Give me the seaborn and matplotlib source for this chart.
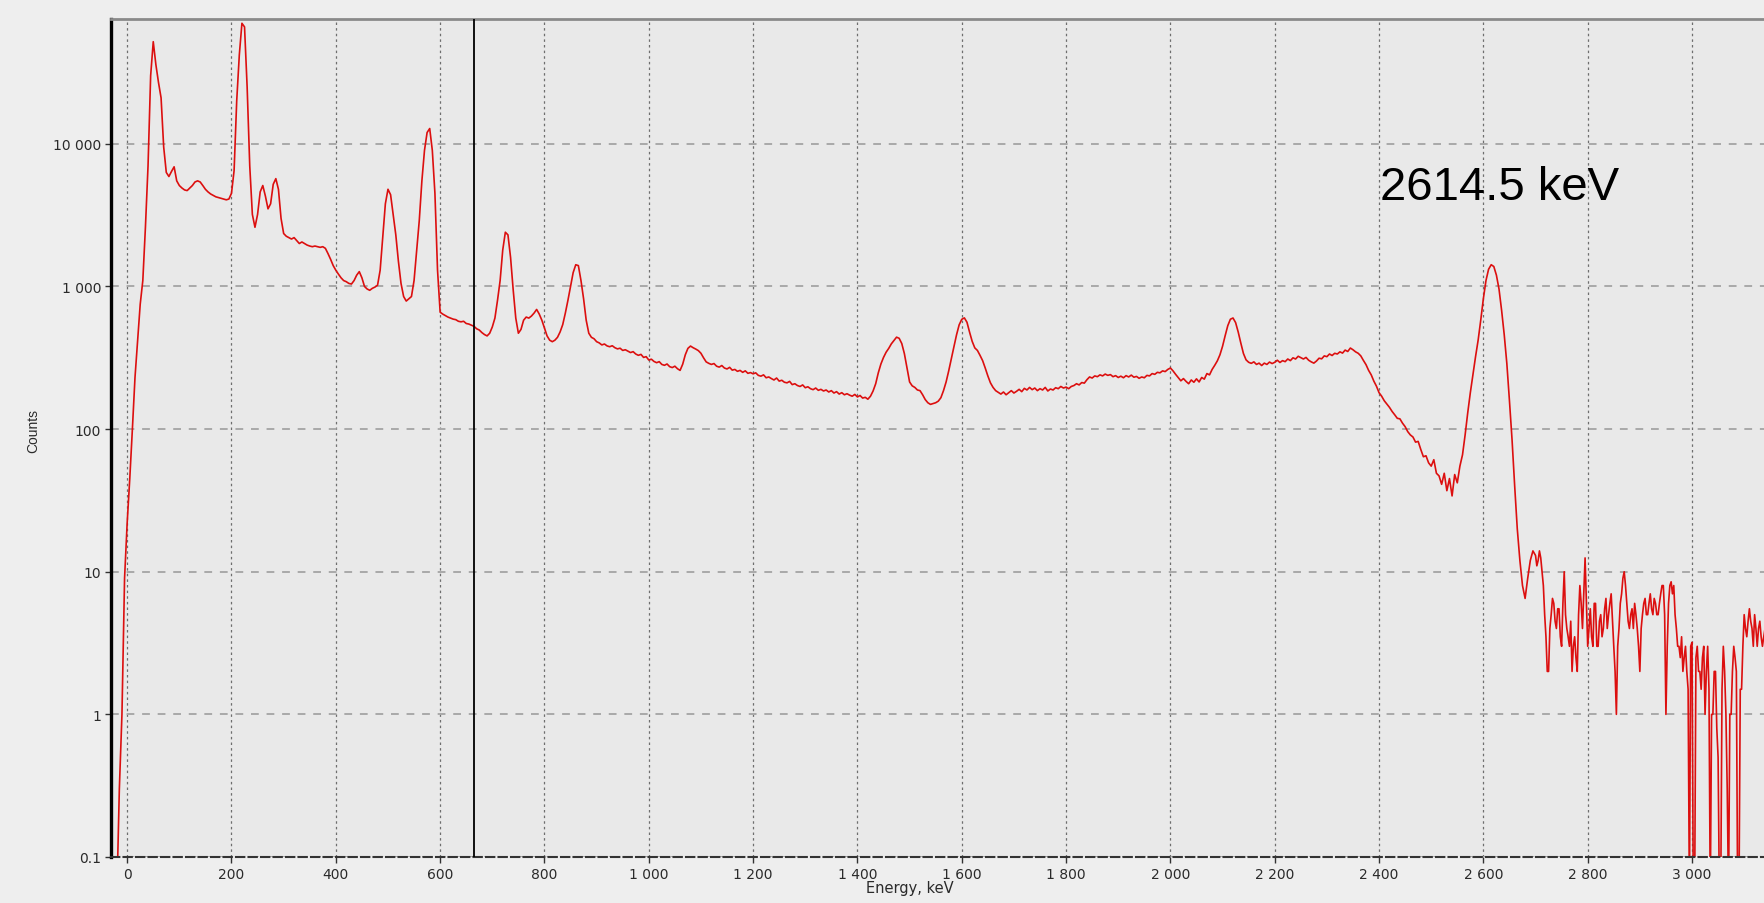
import numpy as np
import pandas as pd
import matplotlib
matplotlib.use("Agg")
import matplotlib.pyplot as plt
from matplotlib.ticker import FixedLocator, FuncFormatter, MultipleLocator, NullLocator
import seaborn as sns

# Gamma spectrum counts.
# Each segment: start energy (keV), bin width (keV), counts. One line = 100 keV (25 keV in the tail).
start_a, step_a = -20, 5
counts_a = [0.05, 0.3, 1.0, 9,
            22, 45, 100, 230, 420, 750, 1100, 2600, 7000, 30000, 52000, 36000, 27000, 21000, 9500, 6300, 5900, 6400, 6900, 5500,
            5100, 4900, 4750, 4700, 4900, 5100, 5400, 5500, 5400, 5100, 4800, 4600, 4450, 4350, 4250, 4200, 4150, 4100, 4050, 4100,
            4500, 6500, 20000, 42000, 70000, 66000, 25000, 7000, 3200, 2600, 3200, 4600, 5100, 4300, 3500, 3800, 5200, 5700, 4800, 3000]

start_b, step_b = 300, 5
counts_b = [2350, 2250, 2200, 2150, 2200, 2100, 2000, 2050, 2000, 1950, 1920, 1900, 1920, 1900, 1880, 1900, 1850, 1700, 1550, 1400,
            1300, 1220, 1150, 1100, 1080, 1050, 1040, 1100, 1200, 1270, 1150, 1000, 960, 940, 970, 990, 1020, 1300, 2200, 3800,
            4800, 4400, 3200, 2300, 1500, 1050, 850, 790, 820, 850, 1100, 1800, 2900, 5500, 9000, 12000, 12800, 9000, 4500, 1300,
            660, 640, 625, 610, 600, 590, 585, 570, 565, 570, 550, 545, 535, 525, 505, 495, 475, 460, 450, 470,
            520, 600, 800, 1100, 1800, 2400, 2300, 1600, 950, 600, 470, 500, 580, 610, 600, 620, 650, 690, 640, 580,
            510, 450, 420, 410, 420, 440, 480, 540, 650, 800, 1000, 1250, 1420, 1400, 1100, 820, 580, 470, 440, 430]

start_c, step_c = 900, 5
counts_c = [410, 402, 389, 395, 383, 378, 384, 372, 365, 369, 356, 360, 352, 344, 349, 336, 329, 334, 318, 322,
            305, 309, 298, 292, 297, 284, 280, 286, 274, 270, 276, 265, 258, 285, 332, 368, 382, 372, 364, 355,
            340, 316, 296, 289, 284, 288, 276, 272, 279, 268, 264, 271, 259, 262, 254, 258, 250, 256, 246, 249,
            244, 248, 238, 235, 240, 229, 232, 226, 221, 228, 217, 220, 213, 211, 216, 205, 208, 202, 199, 204,
            195, 198, 192, 189, 194, 187, 190, 185, 188, 182, 186, 179, 183, 176, 180, 174, 177, 173, 170, 175,
            168, 172, 165, 167, 162, 170, 185, 208, 248, 286, 318, 346, 368, 396, 418, 441, 433, 398, 338, 268]

start_d, step_d = 1500, 5
counts_d = [214, 201, 196, 188, 186, 174, 161, 153, 149, 151, 153, 157, 166, 186, 214, 256, 312, 378, 458, 538,
            588, 602, 561, 478, 412, 371, 356, 329, 302, 268, 236, 211, 196, 186, 181, 176, 182, 174, 180, 186,
            179, 184, 190, 183, 193, 188, 196, 189, 194, 186, 192, 188, 196, 185, 191, 188, 195, 192, 199, 194,
            197, 192, 199, 202, 208, 204, 212, 210, 222, 232, 228, 236, 233, 240, 236, 243, 238, 241, 233, 237,
            230, 235, 229, 237, 232, 239, 231, 234, 227, 232, 229, 238, 236, 245, 242, 250, 248, 256, 253, 262,
            268, 256, 242, 230, 218, 226, 216, 208, 221, 213, 225, 214, 230, 224, 245, 240, 262, 280, 301, 332]

start_e, step_e = 2100, 5
counts_e = [381, 452, 531, 589, 601, 558, 479, 401, 339, 306, 294, 289, 296, 284, 290, 279, 290, 284, 295, 288,
            294, 304, 293, 302, 297, 310, 302, 316, 310, 324, 317, 310, 318, 304, 296, 290, 300, 314, 311, 326,
            322, 336, 328, 340, 336, 348, 341, 358, 350, 370, 360, 348, 340, 326, 303, 283, 258, 240, 217, 200,
            180, 170, 158, 150, 142, 133, 126, 119, 118, 110, 104, 96, 91, 88, 81, 82, 72, 64, 65, 58,
            55, 61, 49, 47, 41, 49, 37, 45, 34, 48, 42, 55, 66, 91, 130, 180, 242, 322, 421, 582,
            822, 1100, 1320, 1420, 1380, 1200, 958, 678, 458, 288, 158, 84, 40, 20, 12, 8, 6.5, 9, 12, 14]

start_f, step_f = 2700, 2.5
counts_f = [13, 11, 12, 14, 12.5, 10, 8, 5, 3.5, 2,
            2, 4, 5, 6.5, 6, 4.5, 4, 5.5, 5.5, 3.5,
            3, 6, 10, 5, 4, 3.5, 3, 4.5, 2, 3,
            3.5, 2.5, 2, 5, 8, 6, 4, 7, 12.5, 6,
            3, 4, 5.5, 3.5, 3, 6, 6, 3, 3, 4.5,
            5, 3.5, 4, 5.5, 6.5, 4, 5, 6, 7, 4.5,
            3, 2, 1, 3, 4, 6, 7, 9, 10, 8,
            6, 4.5, 4, 5, 5.5, 4, 6, 5, 4, 3,
            2, 4, 5, 6, 6.5, 5, 5, 6, 7, 5.5,
            5, 6.5, 6, 5, 5, 6, 7, 8, 8, 5,
            1, 3, 6, 8, 8.5, 7, 8, 5, 4, 3,
            3, 2.5, 3.5, 2, 2.5, 3, 2, 1.5, 0.05, 3,
            3.2, 0.05, 0.05, 2.5, 3, 2, 2, 1.5, 2.5, 3,
            1, 2, 3, 1.5, 0.05, 1, 1, 2, 2, 0.8,
            0.5, 0.05, 0.05, 1.5, 3, 2, 1, 0.3, 0.05, 1,
            1, 2, 3, 2.5, 2, 0.05, 0.05, 1.5, 1.5, 3,
            5, 4, 3.5, 4.5, 5.5, 4.5, 4, 3, 5, 4,
            3, 4, 4.5, 3.5, 3, 3.5, 4]

marker_keV = 665          # cursor line
peak_label = "2614.5 keV"
peak_label_pos = (2402, 4120)

x_ticks = list(range(0, 3001, 200))
y_ticks = [0.1, 1, 10, 100, 1000, 10000]

segments = [(start_a, step_a, counts_a), (start_b, step_b, counts_b), (start_c, step_c, counts_c),
            (start_d, step_d, counts_d), (start_e, step_e, counts_e), (start_f, step_f, counts_f)]
frames = []
for start, step, c in segments:
    frames.append(pd.DataFrame({'energy': start + step * np.arange(len(c)), 'counts': c}))
df = pd.concat(frames, ignore_index=True)

sns.set_style('white')
plt.rcParams['font.family'] = ['DejaVu Sans']

fig = plt.figure(figsize=(17.64, 9.04), dpi=100, facecolor='#eeeeee')
ax = fig.add_axes([111 / 1764, 46 / 904, 1653 / 1764, 838 / 904])
ax.set_facecolor('#e9e9e9')
ax.set_yscale('log')

sns.lineplot(data=df, x='energy', y='counts', ax=ax, color='#dc0f0f', lw=1.2,
             estimator=None, sort=True, legend=False)
ax.axvline(marker_keV, color='black', lw=1.3, zorder=3)

ax.set_xlim(-31, 3138)
ax.set_ylim(0.1, 75000)

def thousands(v, pos):
    if v < 1:
        return f'{v:g}'
    return f'{v:,.0f}'.replace(',', ' ')

ax.xaxis.set_major_locator(FixedLocator(x_ticks))
ax.xaxis.set_minor_locator(MultipleLocator(50))
ax.xaxis.set_major_formatter(FuncFormatter(thousands))
ax.yaxis.set_major_locator(FixedLocator(y_ticks))
ax.yaxis.set_minor_locator(NullLocator())
ax.yaxis.set_major_formatter(FuncFormatter(thousands))

ax.tick_params(axis='both', which='major', labelsize=10, labelcolor='#2a2a2a',
               length=4, width=1, color='#333333', pad=3, direction='out')
ax.tick_params(axis='x', which='minor', length=2.5, width=0.8, color='#333333', direction='out')
ax.tick_params(left=True, bottom=True)

ax.xaxis.grid(True, color='#6e6e6e', ls=(0, (2, 2.5)), lw=0.9)
ax.yaxis.grid(True, color='#a9a9a9', ls=(0, (4, 4)), lw=1.4)
ax.set_axisbelow(True)

ax.spines['left'].set_color('black')
ax.spines['left'].set_linewidth(2.4)
ax.spines['top'].set_color('#8a8a8a')
ax.spines['top'].set_linewidth(2)
ax.spines['bottom'].set_color('#333333')
ax.spines['bottom'].set_linewidth(1.5)
ax.spines['bottom'].set_linestyle((0, (4, 2)))
ax.spines['right'].set_visible(False)

ax.set_xlabel('Energy, keV', fontsize=10.5, color='#2a2a2a')
ax.xaxis.set_label_coords(0.483, -0.028)
ax.set_ylabel('Counts', fontsize=10, color='#2a2a2a', family='Liberation Sans')
ax.yaxis.set_label_coords(-0.043, 0.51)

ax.text(peak_label_pos[0], peak_label_pos[1], peak_label, fontsize=34,
        family='Liberation Sans', color='black', va='baseline', ha='left')

fig.savefig('out.png', dpi=100, facecolor=fig.get_facecolor())
